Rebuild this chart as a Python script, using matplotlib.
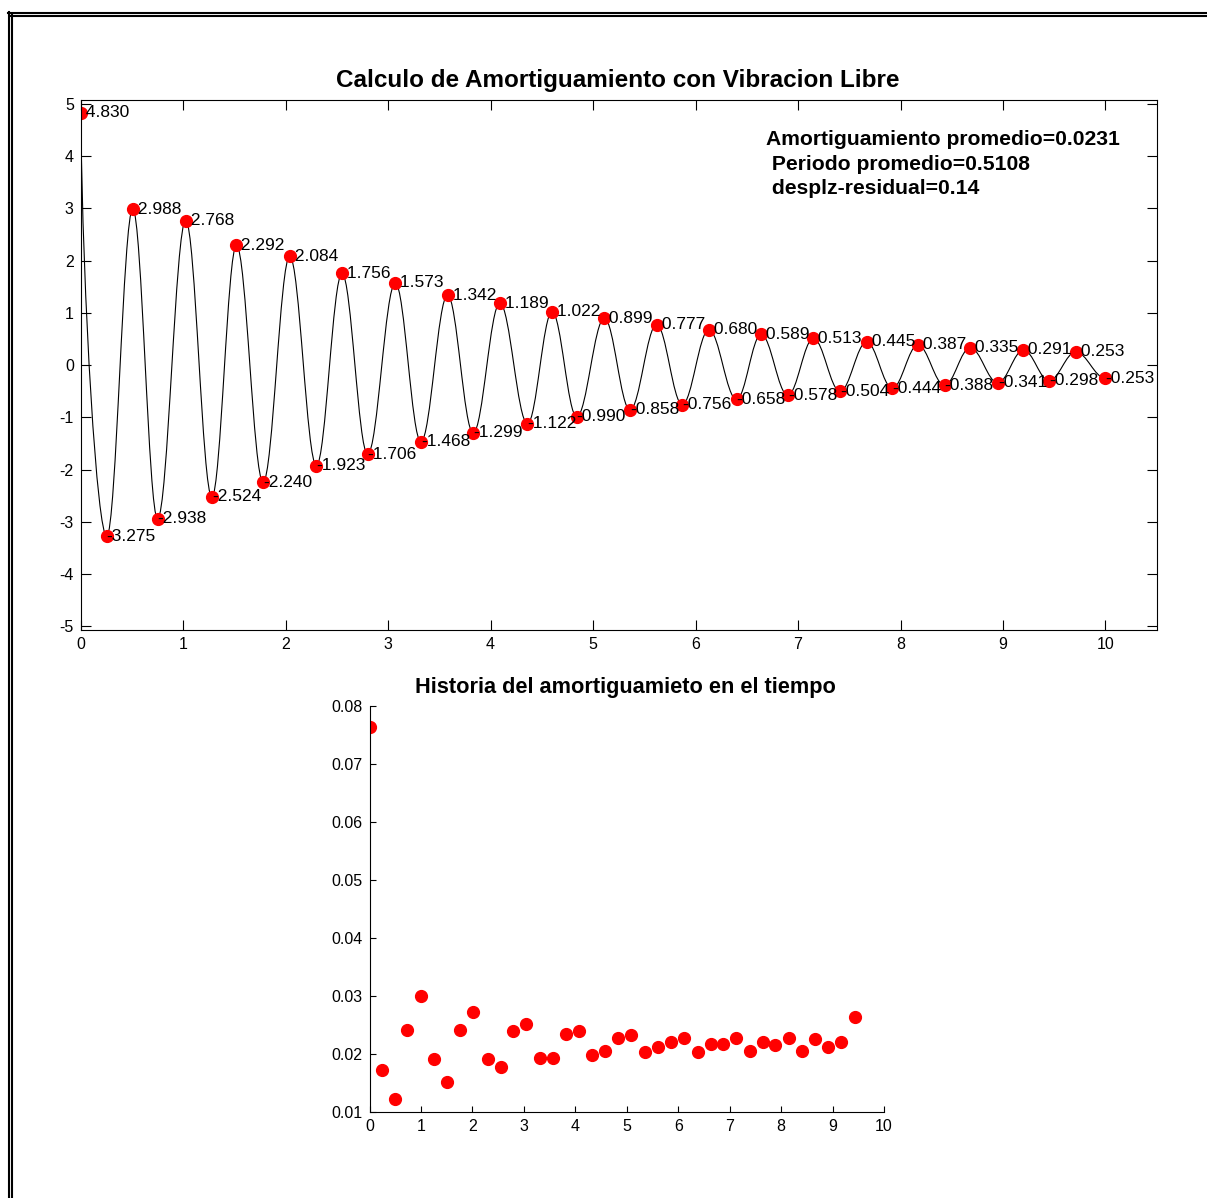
import matplotlib
matplotlib.use("Agg")
import matplotlib.pyplot as plt
from matplotlib.path import Path
from matplotlib.patches import PathPatch
from matplotlib.lines import Line2D

plt.rcParams['font.family'] = ['Liberation Sans', 'DejaVu Sans']
plt.rcParams['axes.unicode_minus'] = False

# picos y valles de la respuesta libre
t_ext = [0.0, 0.254, 0.508, 0.75, 1.025, 1.28, 1.52, 1.78, 2.04, 2.30,
         2.55, 2.80, 3.07, 3.32, 3.58, 3.83, 4.09, 4.36, 4.60, 4.84,
         5.11, 5.36, 5.62, 5.87, 6.13, 6.40, 6.64, 6.90, 7.15, 7.41,
         7.67, 7.92, 8.17, 8.43, 8.68, 8.95, 9.20, 9.45, 9.71, 10.0]
y_ext = [4.830, -3.275, 2.988, -2.938, 2.768, -2.524, 2.292, -2.240, 2.084, -1.923,
         1.756, -1.706, 1.573, -1.468, 1.342, -1.299, 1.189, -1.122, 1.022, -0.990,
         0.899, -0.858, 0.777, -0.756, 0.680, -0.658, 0.589, -0.578, 0.513, -0.504,
         0.445, -0.444, 0.387, -0.388, 0.335, -0.341, 0.291, -0.298, 0.253, -0.253]

# historia del amortiguamiento
t_amort = [0.0, 0.24, 0.49, 0.73, 1.00, 1.26, 1.51, 1.76, 2.02, 2.30,
           2.55, 2.78, 3.05, 3.31, 3.56, 3.82, 4.07, 4.33, 4.58, 4.83,
           5.08, 5.36, 5.60, 5.86, 6.11, 6.38, 6.63, 6.88, 7.13, 7.39,
           7.65, 7.89, 8.15, 8.40, 8.66, 8.92, 9.16, 9.44]
amort = [0.0763, 0.0173, 0.0122, 0.0242, 0.0300, 0.0191, 0.0152, 0.0242, 0.0272, 0.0191,
         0.0177, 0.0240, 0.0252, 0.0193, 0.0193, 0.0234, 0.0240, 0.0199, 0.0205, 0.0228,
         0.0232, 0.0203, 0.0212, 0.0221, 0.0228, 0.0203, 0.0218, 0.0218, 0.0228, 0.0205,
         0.0221, 0.0216, 0.0228, 0.0205, 0.0226, 0.0212, 0.0221, 0.0263]

resumen = ['Amortiguamiento promedio=0.0231',
           ' Periodo promedio=0.5108',
           ' desplz-residual=0.14']

W, H = 1207, 1198
fig = plt.figure(figsize=(W / 100, H / 100), dpi=100)

def fx(px):
    return px / W

def fy(py):
    return 1 - py / H

# marco doble
for x in (8.5, 11.5):
    fig.add_artist(Line2D([fx(x), fx(x)], [fy(12 if x < 10 else 15), 0],
                          transform=fig.transFigure, color='black', lw=1.5))
for y in (12.5, 15.5):
    fig.add_artist(Line2D([fx(8 if y < 14 else 11), 1], [fy(y), fy(y)],
                          transform=fig.transFigure, color='black', lw=1.5))

# --- grafico superior ---
ax1 = fig.add_axes([fx(80.7), fy(629.7), fx(1156.7) - fx(80.7), fy(100) - fy(629.7)])

verts = [(t_ext[0], y_ext[0])]
codes = [Path.MOVETO]
for i in range(len(t_ext) - 1):
    t0, t1 = t_ext[i], t_ext[i + 1]
    y0, y1 = y_ext[i], y_ext[i + 1]
    dt = t1 - t0
    if i == 0:
        c1 = (t0 + 0.08 * dt, y0 + 0.45 * (y1 - y0))
    else:
        c1 = (t0 + 0.364 * dt, y0)
    verts += [c1, (t1 - 0.364 * dt, y1), (t1, y1)]
    codes += [Path.CURVE4] * 3
ax1.add_patch(PathPatch(Path(verts, codes), fill=False, ec='black', lw=0.8, zorder=1))

ax1.plot(t_ext, y_ext, 'o', color='red', markersize=8.5, zorder=2)
for t, v in zip(t_ext, y_ext):
    ax1.text(t, v, f"{v:6.3f}", ha='left', va='center', fontsize=12.5, zorder=3)

ax1.set_xlim(0, 10.5)
ax1.set_ylim(-5.067, 5.077)
ax1.set_xticks(range(0, 11))
ax1.set_yticks(range(-5, 6))
ax1.tick_params(direction='in', top=True, right=True, length=7, labelsize=11.5, pad=5)
fig.text(fx(618), fy(87.5), 'Calculo de Amortiguamiento con Vibracion Libre',
         ha='center', va='baseline', fontsize=17.5, fontweight='bold')
for k, linea in enumerate(resumen):
    fig.text(fx(766), fy(145 + 24.5 * k), linea, ha='left', va='baseline',
             fontsize=15.2, fontweight='bold')

# --- grafico inferior ---
ax2 = fig.add_axes([fx(369.5), fy(1112), fx(884) - fx(369.5), fy(706) - fy(1112)])
ax2.plot(t_amort, amort, 'o', color='red', markersize=8.5)
ax2.set_xlim(0, 10)
ax2.set_ylim(0.01, 0.08)
ax2.set_xticks(range(0, 11))
ax2.set_yticks([0.01, 0.02, 0.03, 0.04, 0.05, 0.06, 0.07, 0.08])
ax2.set_yticklabels(['0.01', '0.02', '0.03', '0.04', '0.05', '0.06', '0.07', '0.08'])
ax2.spines['top'].set_visible(False)
ax2.spines['right'].set_visible(False)
ax2.tick_params(direction='in', length=4, labelsize=11.5, pad=5)
fig.text(fx(625), fy(693), 'Historia del amortiguamieto en el tiempo',
         ha='center', va='baseline', fontsize=15.7, fontweight='bold')

fig.savefig('out.png', dpi=100)
